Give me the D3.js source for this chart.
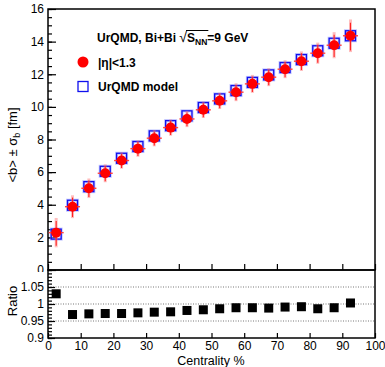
<!DOCTYPE html>
<html>
<head>
<meta charset="utf-8">
<script src="https://cdn.jsdelivr.net/npm/d3@7"></script>
<style>
  body { margin: 0; background: #fff; }
  svg text { font-family: "Liberation Sans", Arial, sans-serif; }
</style>
</head>
<body>
<script>
// centrality bin centres (%)
const centrality = [2.5, 7.5, 12.5, 17.5, 22.5, 27.5, 32.5, 37.5, 42.5, 47.5,
                    52.5, 57.5, 62.5, 67.5, 72.5, 77.5, 82.5, 87.5, 92.5];
// <b> from |eta|<1.3 estimate, with sigma_b
const bData = [2.29, 3.88, 5.01, 5.93, 6.71, 7.44, 8.08, 8.73, 9.26, 9.82,
               10.37, 10.9, 11.41, 11.82, 12.31, 12.8, 13.29, 13.78, 14.36];
const bErr = [0.9, 0.7, 0.6, 0.55, 0.5, 0.5, 0.5, 0.5, 0.5, 0.5,
              0.5, 0.55, 0.55, 0.55, 0.55, 0.6, 0.65, 0.8, 1.0];
// UrQMD model <b>
const bModel = [2.2, 3.97, 5.11, 6.05, 6.85, 7.57, 8.22, 8.85, 9.45, 9.96,
                10.49, 11.0, 11.5, 11.96, 12.41, 12.9, 13.44, 13.9, 14.36];
// ratio panel
const ratio = [1.030, 0.969, 0.971, 0.972, 0.972, 0.974, 0.976, 0.977, 0.981, 0.983,
               0.986, 0.989, 0.989, 0.988, 0.991, 0.992, 0.986, 0.989, 1.003];

const yTicksTop = [0, 2, 4, 6, 8, 10, 12, 14, 16];
const yTicksRatio = [0.9, 0.95, 1, 1.05];
const xTicks = [0, 10, 20, 30, 40, 50, 60, 70, 80, 90, 100];
const binHalf = 2.3;

const W = 385, H = 367;
const left = 48, right = 375;
const topY0 = 9, topY1 = 270, botY1 = 338;

const svg = d3.select("body").append("svg").attr("width", W).attr("height", H);

const x = d3.scaleLinear().domain([0, 100]).range([left, right]);
const yTop = d3.scaleLinear().domain([0, 16]).range([topY1, topY0]);
const yBot = d3.scaleLinear().domain([0.9, 1.1]).range([botY1, topY1]);

svg.append("defs").append("clipPath").attr("id", "topclip")
   .append("rect").attr("x", 0).attr("y", 0).attr("width", W).attr("height", 272);

// ---------- top panel ----------
const topG = svg.append("g").attr("clip-path", "url(#topclip)");

// minor y ticks
topG.append("g").attr("transform", `translate(${left},0)`)
    .call(d3.axisLeft(yTop).tickValues(d3.range(0, 16.01, 0.5)).tickSize(-4).tickFormat(""))
    .call(g => g.select(".domain").remove());
// major y ticks
topG.append("g").attr("transform", `translate(${left},0)`)
    .call(d3.axisLeft(yTop).tickValues(yTicksTop).tickSize(-8).tickPadding(4).tickFormat(d3.format("d")))
    .call(g => g.select(".domain").remove())
    .call(g => g.selectAll("text").attr("font-size", 12).attr("fill", "#000"));
// x ticks (no labels)
topG.append("g").attr("transform", `translate(0,${topY1})`)
    .call(d3.axisBottom(x).tickValues(xTicks).tickSize(-6).tickFormat(""))
    .call(g => g.select(".domain").remove());

topG.selectAll(".tick line").attr("stroke", "#000").attr("stroke-width", 1.2);

// frame
svg.append("rect").attr("x", left).attr("y", topY0).attr("width", right - left).attr("height", topY1 - topY0)
   .attr("fill", "none").attr("stroke", "#000").attr("stroke-width", 1.5);

// model squares
const sq = 10;
const model = svg.append("g");
model.selectAll("rect.halo").data(centrality).join("rect")
   .attr("x", (d) => x(d) - sq / 2).attr("y", (d, i) => yTop(bModel[i]) - sq / 2)
   .attr("width", sq).attr("height", sq)
   .attr("fill", "none").attr("stroke", "#9aa0ff").attr("stroke-width", 3).attr("opacity", 0.6);
model.selectAll("rect.sq").data(centrality).join("rect")
   .attr("x", (d) => x(d) - sq / 2).attr("y", (d, i) => yTop(bModel[i]) - sq / 2)
   .attr("width", sq).attr("height", sq)
   .attr("fill", "none").attr("stroke", "#1010ee").attr("stroke-width", 1.3);

// data error bars
const err = svg.append("g");
centrality.forEach((c, i) => {
  const cx = x(c), cy = yTop(bData[i]);
  err.append("line").attr("x1", cx).attr("x2", cx)
     .attr("y1", yTop(bData[i] + bErr[i])).attr("y2", yTop(bData[i] - bErr[i]))
     .attr("stroke", "#ff7070").attr("stroke-width", 3).attr("opacity", 0.45);
  err.append("line").attr("x1", cx).attr("x2", cx)
     .attr("y1", yTop(bData[i] + bErr[i] * 0.8)).attr("y2", yTop(bData[i] - bErr[i] * 0.9))
     .attr("stroke", "#ff2020").attr("stroke-width", 1.1);
  err.append("line").attr("x1", x(c - binHalf)).attr("x2", x(c + binHalf))
     .attr("y1", cy).attr("y2", cy)
     .attr("stroke", "#ff4040").attr("stroke-width", 1.4);
});

// data circles
svg.append("g").selectAll("circle").data(centrality).join("circle")
   .attr("cx", (d) => x(d)).attr("cy", (d, i) => yTop(bData[i]))
   .attr("r", 5).attr("fill", "#ff0000");

// legend
const leg = svg.append("g").attr("font-weight", "bold").attr("font-size", 12).attr("fill", "#000");
const title = leg.append("text").attr("x", 97).attr("y", 42);
title.append("tspan").text("UrQMD, Bi+Bi ");
title.append("tspan").attr("font-weight", "normal").attr("font-size", 14).text("\u221A");
title.append("tspan").text("S");
title.append("tspan").attr("font-size", 8.5).attr("dy", 3).text("NN");
title.append("tspan").attr("dy", -3).text("=9 GeV");
{
  const node = title.node();
  const s = "UrQMD, Bi+Bi \u221A".length;
  const x1 = node.getEndPositionOfChar(s + 2).x;
  const r0 = node.getEndPositionOfChar(s - 1).x;
  leg.append("line").attr("x1", r0 - 1).attr("x2", x1 + 1).attr("y1", 30.5).attr("y2", 30.5)
     .attr("stroke", "#000").attr("stroke-width", 1);
}
leg.append("circle").attr("cx", 83).attr("cy", 62).attr("r", 5.5).attr("fill", "#ff0000");
leg.append("text").attr("x", 98).attr("y", 66.5).text("|\u03B7|<1.3");
leg.append("rect").attr("x", 78).attr("y", 81.5).attr("width", 10).attr("height", 10)
   .attr("fill", "none").attr("stroke", "#1010ee").attr("stroke-width", 1.3);
leg.append("text").attr("x", 98).attr("y", 91).text("UrQMD model");

// y title
const yt = svg.append("text").attr("transform", "translate(17,145) rotate(-90)")
   .attr("text-anchor", "middle").attr("font-size", 13);
yt.append("tspan").text("<b> \u00B1 \u03C3");
yt.append("tspan").attr("font-size", 9).attr("dy", 3).text("b");
yt.append("tspan").attr("dy", -3).text(" [fm]");

// ---------- ratio panel ----------
const botG = svg.append("g");
botG.selectAll("line.grid").data([0.95, 1, 1.05]).join("line")
   .attr("x1", left).attr("x2", right)
   .attr("y1", (d) => yBot(d)).attr("y2", (d) => yBot(d))
   .attr("stroke", "#777").attr("stroke-width", 1).attr("stroke-dasharray", "1,1.5");

botG.append("g").attr("transform", `translate(${left},0)`)
    .call(d3.axisLeft(yBot).tickValues(d3.range(0.9, 1.1001, 0.01)).tickSize(-4).tickFormat(""))
    .call(g => g.select(".domain").remove());
botG.append("g").attr("transform", `translate(${left},0)`)
    .call(d3.axisLeft(yBot).tickValues(yTicksRatio).tickSize(-7).tickPadding(4).tickFormat(d3.format("")))
    .call(g => g.select(".domain").remove())
    .call(g => g.selectAll("text").attr("font-size", 12).attr("fill", "#000"));
botG.append("g").attr("transform", `translate(0,${botY1})`)
    .call(d3.axisBottom(x).tickValues(xTicks).tickSize(-5).tickPadding(3).tickFormat(d3.format("d")))
    .call(g => g.select(".domain").remove())
    .call(g => g.selectAll("text").attr("font-size", 12).attr("fill", "#000"));
botG.selectAll(".tick line").attr("stroke", "#000").attr("stroke-width", 1.2);

svg.append("rect").attr("x", left).attr("y", topY1).attr("width", right - left).attr("height", botY1 - topY1)
   .attr("fill", "none").attr("stroke", "#000").attr("stroke-width", 1.5);

const rs = 9;
botG.selectAll("rect.r").data(centrality).join("rect")
   .attr("x", (d) => x(d) - rs / 2).attr("y", (d, i) => yBot(ratio[i]) - rs / 2)
   .attr("width", rs).attr("height", rs).attr("fill", "#000");

svg.append("text").attr("transform", "translate(17,301) rotate(-90)")
   .attr("text-anchor", "middle").attr("font-size", 13).text("Ratio");

svg.append("text").attr("x", 211).attr("y", 365).attr("text-anchor", "middle")
   .attr("font-size", 12.5).text("Centrality %");
</script>
</body>
</html>
